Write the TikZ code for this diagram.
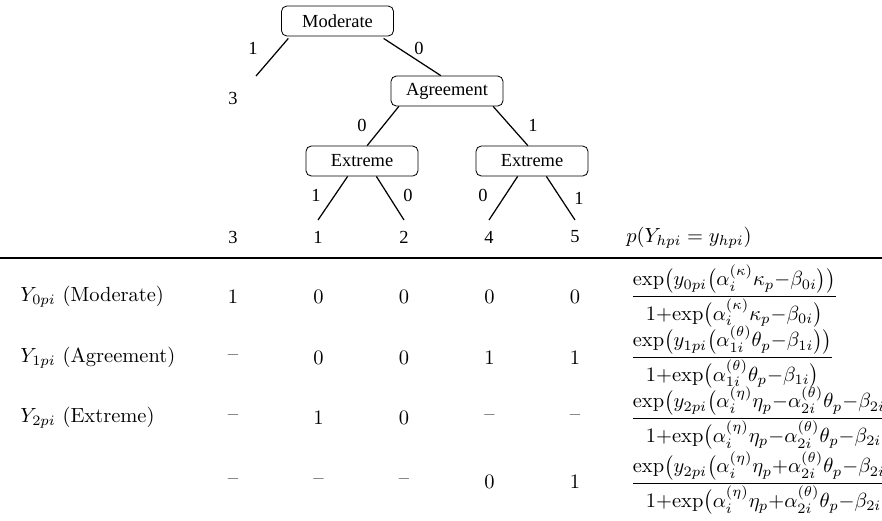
\documentclass[tikz,border=0pt]{standalone}
\usepackage{amsmath}
\usepackage{fontspec}
\newfontfamily\treefont{Liberation Serif}
\usepackage{tikz}

\tikzset{
  catbox/.style={draw,rounded corners=2.5pt,minimum width=54.6pt,minimum height=14.6pt,inner sep=0pt,font=\treefont\fontsize{9}{11}\selectfont},
  treelbl/.style={inner sep=0pt,font=\treefont\fontsize{9}{11}\selectfont},
  cell/.style={inner sep=0pt},
  branch/.style={line width=0.6pt}
}

\begin{document}
\begin{tikzpicture}[x=0.488pt,y=-0.488pt]
                \useasboundingbox (0,0) rectangle (882,520);
                % tree
                \node[catbox] (moderate) at (337.5,21) {Moderate};
                \node[catbox] (agree) at (447,91) {Agreement};
                \node[catbox] (extL) at (362,161) {Extreme};
                \node[catbox] (extR) at (532,161) {Extreme};
                \coordinate (leafA) at (256,76);
                \coordinate (leafB) at (318,220);
                \coordinate (leafC) at (404,220);
                \coordinate (leafD) at (489,220);
                \coordinate (leafE) at (575,220);
                \draw[branch] ([xshift=3.5pt,yshift=-1pt]moderate.south west) -- (leafA);
                \draw[branch] ([xshift=-5pt,yshift=-1pt]moderate.south east) -- ([xshift=-3pt]agree.north);
                \draw[branch] ([xshift=4pt]agree.south west) -- ([xshift=2.5pt]extL.north);
                \draw[branch] ([xshift=-5pt]agree.south east) -- ([xshift=-2pt]extR.north);
                \draw[branch] ([xshift=-7pt]extL.south) -- (leafB);
                \draw[branch] ([xshift=7pt]extL.south) -- (leafC);
                \draw[branch] ([xshift=-7pt]extR.south) -- (leafD);
                \draw[branch] ([xshift=7pt]extR.south) -- (leafE);
                \node[treelbl] (lm1) at (253,48) {1};
                \node[treelbl] (lm0) at (419,48) {0};
                \node[treelbl] (la0) at (362,125) {0};
                \node[treelbl] (la1) at (533,125) {1};
                \node[treelbl] (lel1) at (316,195) {1};
                \node[treelbl] (lel0) at (408,195) {0};
                \node[treelbl] (ler0) at (483,195) {0};
                \node[treelbl] (ler1) at (579,198) {1};
                \node[treelbl] (cat3) at (233,98) {3};
                % category header
                \node[treelbl] (h3) at (233,237) {3};
                \node[treelbl] (h1) at (318,237) {1};
                \node[treelbl] (h2) at (404,237) {2};
                \node[treelbl] (h4) at (489,237) {4};
                \node[treelbl] (h5) at (575,237) {5};
                \node[cell,anchor=west] (hp) at (626,238) {$p(Y_{hpi}=y_{hpi})$};
                \draw[line width=0.7pt] (0,258) -- (882,258);
                % rows
                \node[cell,anchor=west] (r0) at (20,297) {$Y_{0pi}$ (Moderate)};
                \node[cell,anchor=west] (r1) at (20,358) {$Y_{1pi}$ (Agreement)};
                \node[cell,anchor=west] (r2) at (20,418) {$Y_{2pi}$ (Extreme)};
                \foreach \v [count=\i] in {1,0,0,0,0}
                    \node[cell] (a\i) at ({233+85.5*(\i-1)},297) {\v};
                \foreach \v [count=\i] in {--,0,0,1,1}
                    \node[cell] (b\i) at ({233+85.5*(\i-1)},358) {\v};
                \foreach \v [count=\i] in {--,1,0,--,--}
                    \node[cell] (c\i) at ({233+85.5*(\i-1)},418) {\v};
                \foreach \v [count=\i] in {--,--,--,0,1}
                    \node[cell] (d\i) at ({233+85.5*(\i-1)},482) {\v};
                \node[cell,anchor=west] (f0) at (630,296) {$\dfrac{\exp\bigl(y_{0pi}\bigl(\alpha_i^{(\kappa)}\kappa_p{-}\beta_{0i}\bigr)\bigr)}{1{+}{\exp}\bigl(\alpha_i^{(\kappa)}\kappa_p{-}\beta_{0i}\bigr)}$};
                \node[cell,anchor=west] (f1) at (630,357) {$\dfrac{\exp\bigl(y_{1pi}\bigl(\alpha_{1i}^{(\theta)}\theta_p{-}\beta_{1i}\bigr)\bigr)}{1{+}{\exp}\bigl(\alpha_{1i}^{(\theta)}\theta_p{-}\beta_{1i}\bigr)}$};
                \node[cell,anchor=west] (f2) at (630,418) {$\dfrac{\exp\bigl(y_{2pi}\bigl(\alpha_i^{(\eta)}\eta_p{-}\alpha_{2i}^{(\theta)}\theta_p{-}\beta_{2i}\bigr)\bigr)}{1{+}{\exp}\bigl(\alpha_i^{(\eta)}\eta_p{-}\alpha_{2i}^{(\theta)}\theta_p{-}\beta_{2i}\bigr)}$};
                \node[cell,anchor=west] (f3) at (630,483) {$\dfrac{\exp\bigl(y_{2pi}\bigl(\alpha_i^{(\eta)}\eta_p{+}\alpha_{2i}^{(\theta)}\theta_p{-}\beta_{2i}\bigr)\bigr)}{1{+}{\exp}\bigl(\alpha_i^{(\eta)}\eta_p{+}\alpha_{2i}^{(\theta)}\theta_p{-}\beta_{2i}\bigr)}$};
            \end{tikzpicture}
\end{document}
